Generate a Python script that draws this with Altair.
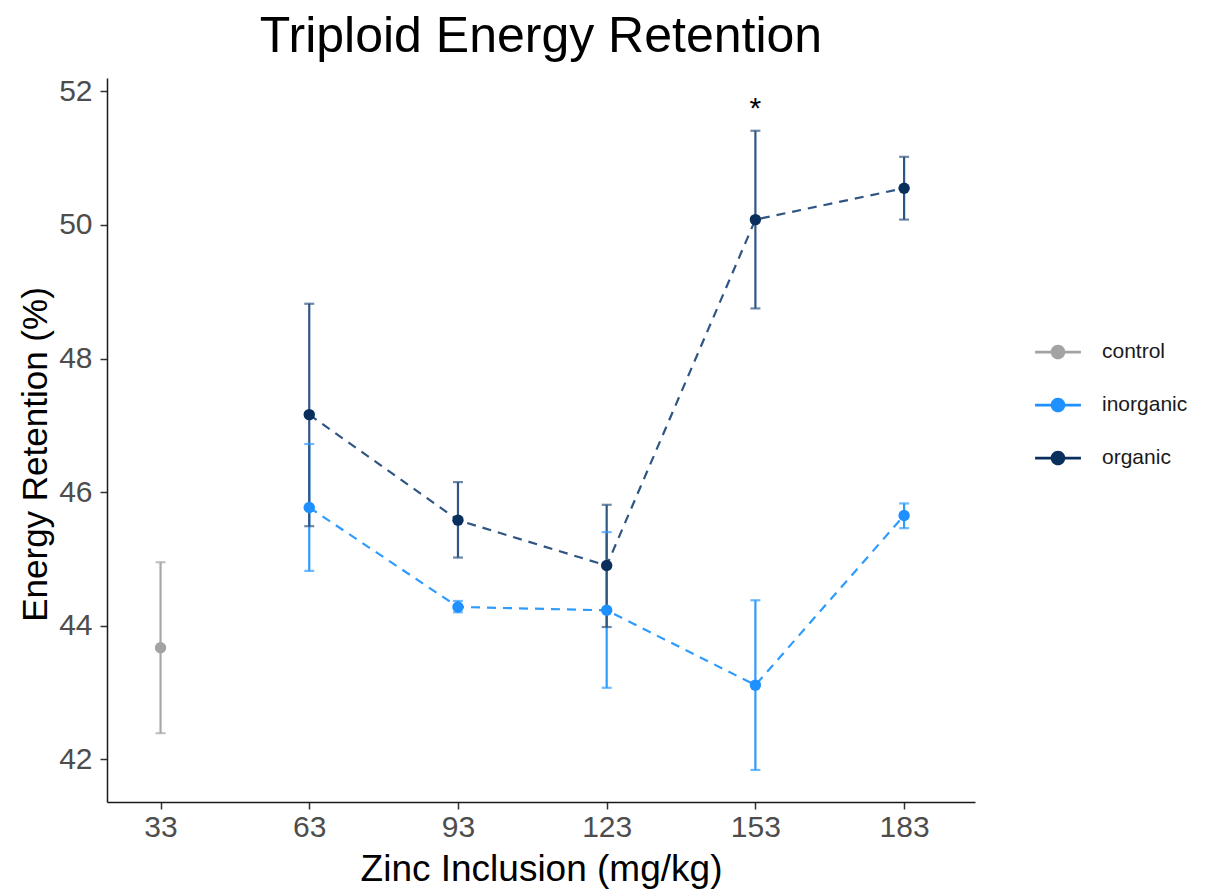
import altair as alt
import pandas as pd

groups = ["control", "inorganic", "organic"]
point_colors = ["#A3A3A3", "#1E90FF", "#0A2F5C"]
bar_colors = ["#A8A8A8", "#2E9BFF", "#2F5583"]

dose_ticks = [33, 63, 93, 123, 153, 183]

control_zinc = [33]
control_mean = [43.67]
control_lo = [42.39]
control_hi = [44.95]

trt_zinc = [63, 93, 123, 153, 183]
inorganic_mean = [45.77, 44.28, 44.23, 43.11, 45.65]
inorganic_lo = [44.82, 44.20, 43.07, 41.84, 45.46]
inorganic_hi = [46.72, 44.37, 45.40, 44.38, 45.83]
organic_mean = [47.16, 45.58, 44.90, 50.08, 50.55]
organic_lo = [45.49, 45.02, 43.98, 48.75, 50.08]
organic_hi = [48.82, 46.15, 45.81, 51.41, 51.02]

star_zinc = [153]
star_y = [51.6]
star_text = ["*"]

rows = []
for z, m, lo, hi in zip(control_zinc, control_mean, control_lo, control_hi):
    rows.append(dict(zinc=z, group="control", mean=m, lo=lo, hi=hi))
for z, m, lo, hi in zip(trt_zinc, inorganic_mean, inorganic_lo, inorganic_hi):
    rows.append(dict(zinc=z, group="inorganic", mean=m, lo=lo, hi=hi))
for z, m, lo, hi in zip(trt_zinc, organic_mean, organic_lo, organic_hi):
    rows.append(dict(zinc=z, group="organic", mean=m, lo=lo, hi=hi))
df = pd.DataFrame(rows)
df["grp"] = df["group"]
star_df = pd.DataFrame(dict(zinc=star_zinc, y=star_y, label=star_text))

FONT = "Liberation Sans"

xscale = alt.Scale(domain=[22.2, 197.3], nice=False, zero=False)
yscale = alt.Scale(domain=[41.36, 52.2], nice=False, zero=False)

xaxis = alt.Axis(values=dose_ticks, format="d", title="Zinc Inclusion (mg/kg)", grid=False,
                 domainColor="#1a1a1a", domainWidth=1.5, tickColor="#333333",
                 tickSize=7, tickWidth=1.5, labelFontSize=30, labelColor="#4d4d4d",
                 labelFont=FONT, titleFont=FONT, titleFontSize=37, titleColor="black",
                 titleFontWeight="normal", labelPadding=3, titleY=78,
                 titleBaseline="alphabetic")
yaxis = alt.Axis(values=[42, 44, 46, 48, 50, 52], format="d", title="Energy Retention (%)", grid=False,
                 domainColor="#1a1a1a", domainWidth=1.5, tickColor="#333333",
                 tickSize=7, tickWidth=1.5, labelFontSize=30, labelColor="#4d4d4d",
                 labelFont=FONT, titleFont=FONT, titleFontSize=35, titleColor="black",
                 titleFontWeight="normal", labelPadding=8, titleX=-72, titleY=376,
                 titleBaseline="middle", titleAngle=-90)

bar_scale = alt.Scale(domain=groups, range=bar_colors)

base = alt.Chart(df)

bars = base.mark_rule(strokeWidth=2.2).encode(
    x=alt.X("zinc:Q", scale=xscale, axis=xaxis),
    y=alt.Y("lo:Q", scale=yscale, axis=yaxis),
    y2="hi:Q",
    stroke=alt.Stroke("grp:N", scale=bar_scale, legend=None),
)
caps_lo = base.mark_tick(orient="horizontal", size=10, thickness=2.2).encode(
    x="zinc:Q", y="lo:Q", fill=alt.Fill("grp:N", scale=bar_scale, legend=None)
)
caps_hi = base.mark_tick(orient="horizontal", size=10, thickness=2.2).encode(
    x="zinc:Q", y="hi:Q", fill=alt.Fill("grp:N", scale=bar_scale, legend=None)
)
lines = base.transform_filter("datum.grp != 'control'").mark_line(
    strokeDash=[9, 7], strokeWidth=2.2
).encode(
    x="zinc:Q", y="mean:Q", stroke=alt.Stroke("grp:N", scale=bar_scale, legend=None), detail="grp:N"
)

legend_symbol = ("M-1,-0.06H1V0.06H-1Z"
                 "M-0.32,0A0.32,0.32 0 1,1 0.32,0A0.32,0.32 0 1,1 -0.32,0Z")

points = base.mark_circle(size=130, opacity=1).encode(
    x="zinc:Q", y="mean:Q",
    color=alt.Color("group:N", scale=alt.Scale(domain=groups, range=point_colors),
                    legend=alt.Legend(title=None, orient="none", legendX=927, legendY=250,
                                      symbolType=legend_symbol, symbolSize=2100,
                                      labelFontSize=21, labelFont=FONT, labelColor="#1a1a1a",
                                      rowPadding=19, labelOffset=20, padding=0)),
)

star = alt.Chart(star_df).mark_text(fontSize=30, font=FONT, baseline="alphabetic", color="black").encode(
    x="zinc:Q", y="y:Q", text="label:N"
)

chart = alt.layer(bars, caps_lo, caps_hi, lines, points, star).resolve_scale(
    fill="independent", stroke="independent"
).properties(
    width=868, height=724,
    background="white",
    title=alt.TitleParams("Triploid Energy Retention", fontSize=50, font=FONT,
                          fontWeight="normal", color="black", anchor="middle",
                          offset=14),
    autosize=alt.AutoSizeParams(type="none"),
    padding={"left": 107, "top": 78, "right": 239, "bottom": 88},
).configure_view(strokeWidth=0)

chart.save("out.html", embed_options={"renderer": "svg", "actions": False})
